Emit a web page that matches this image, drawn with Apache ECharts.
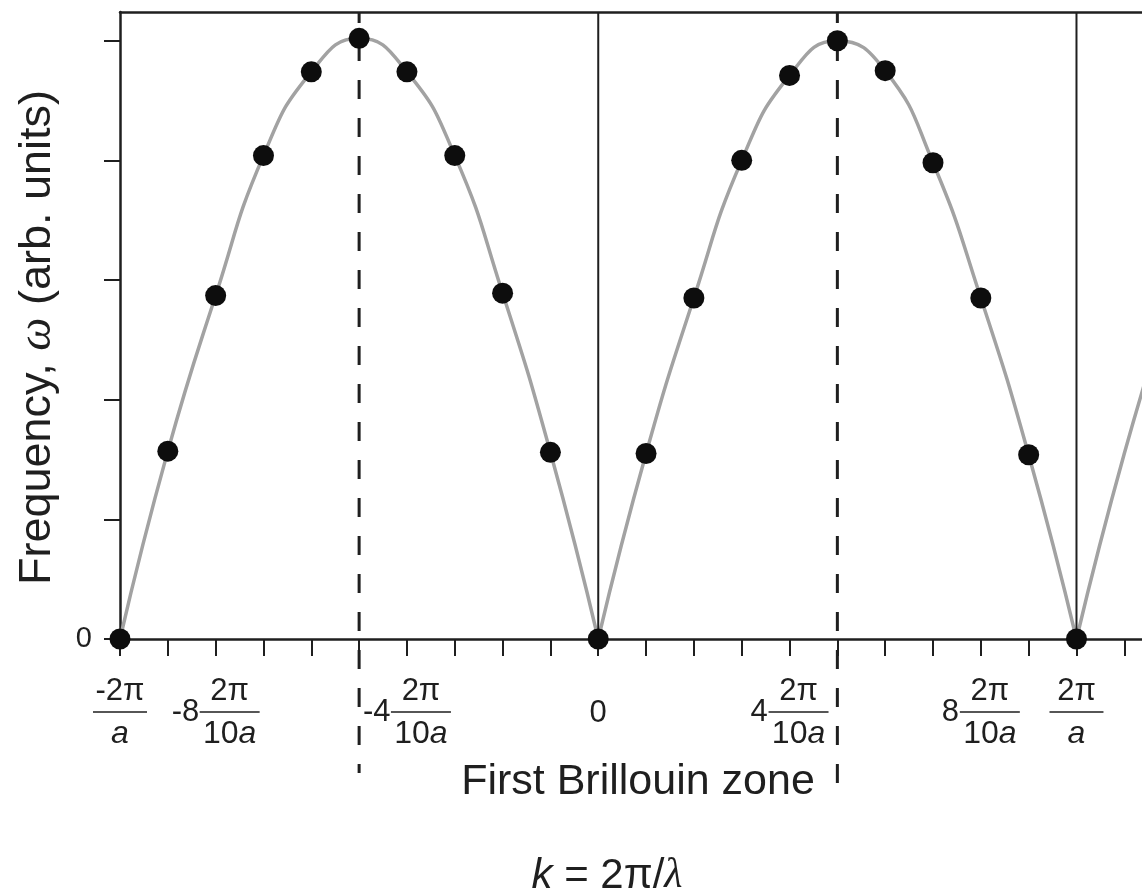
<!DOCTYPE html>
<html lang="en">
<head>
<meta charset="UTF-8">
<title>Phonon dispersion, first Brillouin zone</title>
<style>
    html, body { margin: 0; padding: 0; background: #fff; }
    #chart { width: 1142px; height: 895px; }
</style>
<script src="https://cdn.jsdelivr.net/npm/echarts@6/dist/echarts.min.js"></script>
</head>
<body>
<div id="chart"></div>
<script>
// k in units of 2π/(10a)
var kSteps = [-10, -9, -8, -7, -6, -5, -4, -3, -2, -1, 0, 1, 2, 3, 4, 5, 6, 7, 8, 9, 10];
var omegaDots = [0, 1.57, 2.87, 4.04, 4.74, 5.02, 4.74, 4.04, 2.89, 1.56, 0,
                 1.55, 2.85, 4.00, 4.71, 5.00, 4.75, 3.98, 2.85, 1.54, 0];
// curve continuing past 2π/a (cut by the right border)
var kExtra = [10, 11, 12];
var omegaExtra = [0, 1.55, 2.87];

// zone boundaries (solid) and the ±π/a dashed markers
var zoneEdges = [0, 10];
var dashK = [-5, 5];
var dashBottom = [-1.12, -1.23];

var xTicks = [-10, -9, -8, -7, -6, -5, -4, -3, -2, -1, 0, 1, 2, 3, 4, 5, 6, 7, 8, 9, 10, 11];
var yTicks = [0, 1, 2, 3, 4, 5];
var yLabels = [0];
var xLabelValues = [-10, -8, -4, 0, 4, 8, 10];
var xLabelPrefix = ['', '-8', '-4', '', '4', '8', ''];
var xLabelNum = ['-2π', '2π', '2π', '0', '2π', '2π', '2π'];
var xLabelDen = ['a', '10a', '10a', '', '10a', '10a', 'a'];

var xMin = -10, xMax = 11.37, yMax = 5.24;
var ink = '#1f1f1f';
var font = 'Liberation Sans';

function kLabel(value) {
    var i = xLabelValues.indexOf(value);
    if (i < 0) return '';
    var den = xLabelDen[i];
    if (!den) return '{zero|' + xLabelNum[i] + '}';
    var hr = den.length > 1 ? '{hrB|}' : '{hrA|}';
    var denText = (den.length > 1 ? '{den|' + den.slice(0, -1) + '}' : '') + '{ita|' + den.slice(-1) + '}';
    var pre = xLabelPrefix[i];
    if (!pre) return '{num|' + xLabelNum[i] + '}\n' + hr + '\n' + denText;
    var p = pre.length > 1 ? 'W' : 'N';
    return '{pad' + p + '|}{num|' + xLabelNum[i] + '}\n{pre' + p + '|' + pre + '}' + hr + '\n{pad' + p + '|}' + denText;
}

function pairs(xs, ys) {
    return xs.map(function (x, i) { return [x, ys[i]]; });
}

var curveStyle = { color: '#a2a2a2', width: 3.5 };
var series = [];
// one smooth arch per zone so the cusps at ω = 0 stay sharp
[[0, 10], [10, 20]].forEach(function (r) {
    series.push({
        type: 'line', smooth: true, showSymbol: false, silent: true, z: 2,
        lineStyle: curveStyle,
        data: pairs(kSteps.slice(r[0], r[1] + 1), omegaDots.slice(r[0], r[1] + 1))
    });
});
series.push({
    type: 'line', smooth: true, showSymbol: false, silent: true, z: 2,
    lineStyle: curveStyle,
    data: pairs(kExtra, omegaExtra)
});
zoneEdges.forEach(function (k) {
    series.push({
        type: 'line', showSymbol: false, silent: true, z: 3,
        lineStyle: { color: ink, width: 2 },
        data: [[k, 0], [k, yMax]]
    });
});
dashK.forEach(function (k, i) {
    series.push({
        type: 'line', showSymbol: false, silent: true, z: 3, clip: false,
        lineStyle: { color: ink, width: 3, type: [19, 19], dashOffset: 8 },
        data: [[k, yMax], [k, dashBottom[i]]]
    });
});
series.push({
    type: 'scatter', symbol: 'circle', symbolSize: 21, silent: true, z: 4, clip: false,
    itemStyle: { color: '#0d0d0d', opacity: 1 },
    data: pairs(kSteps, omegaDots)
});

var chart = echarts.init(document.getElementById('chart'));
chart.setOption({
    animation: false,
    textStyle: { fontFamily: font, color: ink },
    grid: { left: 120, right: 0, top: 12, bottom: 256, containLabel: false, outerBoundsMode: 'none' },
    xAxis: [{
        type: 'value', min: xMin, max: xMax, position: 'bottom',
        axisLine: { show: true, onZero: false, lineStyle: { color: ink, width: 2.5 } },
        axisTick: { show: true, length: 17, customValues: xTicks, lineStyle: { color: ink, width: 2 } },
        splitLine: { show: false },
        axisLabel: {
            customValues: xLabelValues,
            margin: 40,
            color: ink,
            fontFamily: font,
            fontSize: 30,
            formatter: kLabel,
            rich: {
                num: { fontSize: 31, lineHeight: 24, align: 'center', color: ink },
                den: { fontSize: 32, lineHeight: 26, align: 'center', color: ink },
                ita: { fontSize: 32, lineHeight: 26, align: 'center', fontStyle: 'italic', color: ink },
                hrA: { width: 54, height: 0, lineHeight: 18, borderWidth: 1.5, borderColor: ink, align: 'center' },
                hrB: { width: 60, height: 0, lineHeight: 18, borderWidth: 1.5, borderColor: ink, align: 'center' },
                padW: { width: 28, lineHeight: 10, align: 'left' },
                padN: { width: 18, lineHeight: 10, align: 'left' },
                preW: { width: 28, fontSize: 31, lineHeight: 18, align: 'left', color: ink },
                preN: { width: 18, fontSize: 31, lineHeight: 18, align: 'left', color: ink },
                zero: { fontSize: 31, lineHeight: 68, color: ink }
            }
        },
        name: '{sl|}{t|First Brillouin zone}\n{k|k}{e| = 2π/}{l|λ}{sr|}',
        nameLocation: 'middle',
        nameGap: 119,
        nameTextStyle: {
            rich: {
                sl: { width: 14, lineHeight: 48 },
                t: { fontSize: 43, lineHeight: 48, color: ink, fontFamily: font },
                k: { fontSize: 42, lineHeight: 140, fontStyle: 'italic', color: ink, fontFamily: font },
                e: { fontSize: 42, lineHeight: 140, color: ink, fontFamily: font },
                l: { fontSize: 42, lineHeight: 140, fontStyle: 'italic', color: ink, fontFamily: 'Liberation Serif' },
                sr: { width: 48, lineHeight: 140 }
            }
        }
    }, {
        type: 'value', min: xMin, max: xMax, position: 'top',
        axisLine: { show: true, onZero: false, lineStyle: { color: ink, width: 2.5 } },
        axisTick: { show: false },
        axisLabel: { show: false },
        splitLine: { show: false }
    }],
    yAxis: {
        type: 'value', min: 0, max: yMax,
        axisLine: { show: true, onZero: false, lineStyle: { color: ink, width: 2.5 } },
        axisTick: { show: true, length: 16, customValues: yTicks, lineStyle: { color: ink, width: 2 } },
        axisLabel: { customValues: yLabels, margin: 28, fontSize: 29, color: ink, fontFamily: font },
        splitLine: { show: false },
        name: '{a|Frequency, }{w|ω}{a| (arb. units)}',
        nameLocation: 'middle',
        nameGap: 59,
        nameTextStyle: {
            padding: [0, 24, 0, 0],
            rich: {
                a: { fontSize: 45, color: ink, fontFamily: font },
                w: { fontSize: 47, color: ink, fontStyle: 'italic', fontFamily: 'Liberation Serif' }
            }
        }
    },
    series: series
});
</script>
</body>
</html>
